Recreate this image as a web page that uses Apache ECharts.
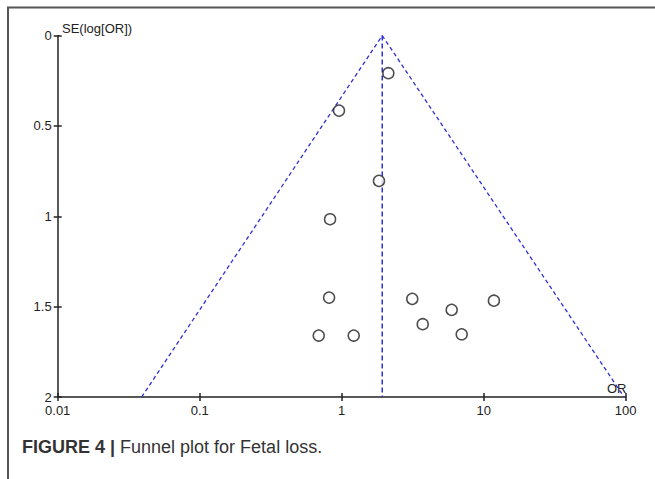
<!DOCTYPE html>
<html>
<head>
<meta charset="utf-8">
<script src="https://cdn.jsdelivr.net/npm/echarts@6/dist/echarts.min.js"></script>
<style>
  html, body { margin: 0; padding: 0; background: #fff; }
  #main { width: 655px; height: 479px; }
</style>
</head>
<body>
<div id="main"></div>
<script>
// study points
var orValues = [2.13, 0.957, 1.83, 0.828, 0.815, 0.689, 1.215, 3.14, 3.72, 5.95, 7.0, 11.8];
var seValues = [0.208, 0.415, 0.804, 1.016, 1.450, 1.660, 1.660, 1.457, 1.597, 1.518, 1.653, 1.467];

// funnel: pooled OR and the two 95% limits at the bottom (SE = 2)
var pooledOR = 1.93;
var funnelLeftOR = 0.039;
var funnelRightOR = 97.3;
var seMax = 2;

var xTickLabels = ['0.01', '0.1', '1', '10', '100'];
var yTickLabels = ['0', '0.5', '1', '1.5', '2'];

var ink = '#222';
var blue = '#2f2fd6';

var points = orValues.map(function (v, i) { return [v, seValues[i]]; });

function xAxisBase(extra) {
    var a = {
        type: 'log',
        logBase: 10,
        min: Number(xTickLabels[0]),
        max: Number(xTickLabels[xTickLabels.length - 1]),
        position: 'bottom',
        splitLine: { show: false },
        minorTick: { show: false }
    };
    for (var k in extra) a[k] = extra[k];
    return a;
}

function yAxisBase(extra) {
    var a = {
        type: 'value',
        min: Number(yTickLabels[0]),
        max: Number(yTickLabels[yTickLabels.length - 1]),
        interval: 0.5,
        inverse: true,
        position: 'left',
        splitLine: { show: false }
    };
    for (var k in extra) a[k] = extra[k];
    return a;
}

var gridBox = { left: 57.7, right: 29.3, top: 35.6, bottom: 82, containLabel: false };
var tickStyle = { color: ink, width: 1.5 };

var option = {
    backgroundColor: '#fff',
    animation: false,
    // second grid on top of the first only carries the inner half of the crossing ticks
    grid: [gridBox, gridBox],
    xAxis: [
        xAxisBase({
            gridIndex: 0,
            axisLine: { show: true, onZero: false, lineStyle: { color: ink, width: 1.5 } },
            axisTick: { show: true, inside: false, length: 4, lineStyle: tickStyle },
            axisLabel: {
                color: ink, fontSize: 13, fontFamily: 'Liberation Sans', margin: 7,
                formatter: function (v) {
                    var s = xTickLabels.filter(function (t) { return Math.abs(Number(t) - v) < v * 1e-6; });
                    return s.length ? s[0] : '';
                }
            }
        }),
        xAxisBase({
            gridIndex: 1,
            axisLine: { show: false, onZero: false },
            axisTick: { show: true, inside: true, length: 4, lineStyle: tickStyle },
            axisLabel: { show: false }
        })
    ],
    yAxis: [
        yAxisBase({
            gridIndex: 0,
            axisLine: { show: true, onZero: false, lineStyle: { color: ink, width: 1.5 } },
            axisTick: { show: true, inside: false, length: 4, lineStyle: tickStyle },
            axisLabel: {
                color: ink, fontSize: 13, fontFamily: 'Liberation Sans', margin: 6,
                padding: [3, 0, 0, 0],
                formatter: function (v) { return String(v); }
            }
        }),
        yAxisBase({
            gridIndex: 1,
            axisLine: { show: false, onZero: false },
            axisTick: { show: true, inside: true, length: 4, lineStyle: tickStyle },
            axisLabel: { show: false }
        })
    ],
    series: [
        {
            type: 'line',
            xAxisIndex: 0, yAxisIndex: 0,
            data: [[funnelLeftOR, seMax], [pooledOR, 0], [funnelRightOR, seMax]],
            symbol: 'none',
            lineStyle: { color: blue, width: 1.3, type: [4, 3] },
            silent: true
        },
        {
            type: 'line',
            xAxisIndex: 0, yAxisIndex: 0,
            data: [[pooledOR, 0], [pooledOR, seMax]],
            symbol: 'none',
            lineStyle: { color: blue, width: 1.5, type: [5, 3] },
            silent: true
        },
        {
            type: 'scatter',
            xAxisIndex: 0, yAxisIndex: 0,
            data: points,
            symbol: 'circle',
            symbolSize: 11,
            itemStyle: { color: '#fff', borderColor: ink, borderWidth: 1.5 },
            z: 5
        }
    ],
    graphic: [
        {
            type: 'polyline',
            shape: { points: [[8, 479], [8, 7.5], [655, 7.5]] },
            style: { stroke: '#555', lineWidth: 2, fill: null }
        },
        {
            type: 'text',
            left: 62, top: 22,
            style: { text: 'SE(log[OR])', fill: ink, font: '13px "Liberation Sans"' }
        },
        {
            type: 'text',
            left: 607, top: 382,
            style: { text: 'OR', fill: ink, font: '13px "Liberation Sans"' }
        },
        {
            type: 'text',
            left: 22, top: 438,
            style: {
                text: '{b|FIGURE 4 |} Funnel plot for Fetal loss.',
                fill: '#333',
                font: '18px "Liberation Sans"',
                rich: {
                    b: { fontWeight: 'bold', fontSize: 18, fontFamily: 'Liberation Sans', fill: '#333' }
                }
            }
        }
    ]
};

var myChart = echarts.init(document.getElementById('main'), null, { renderer: 'svg' });
myChart.setOption(option);
</script>
</body>
</html>
